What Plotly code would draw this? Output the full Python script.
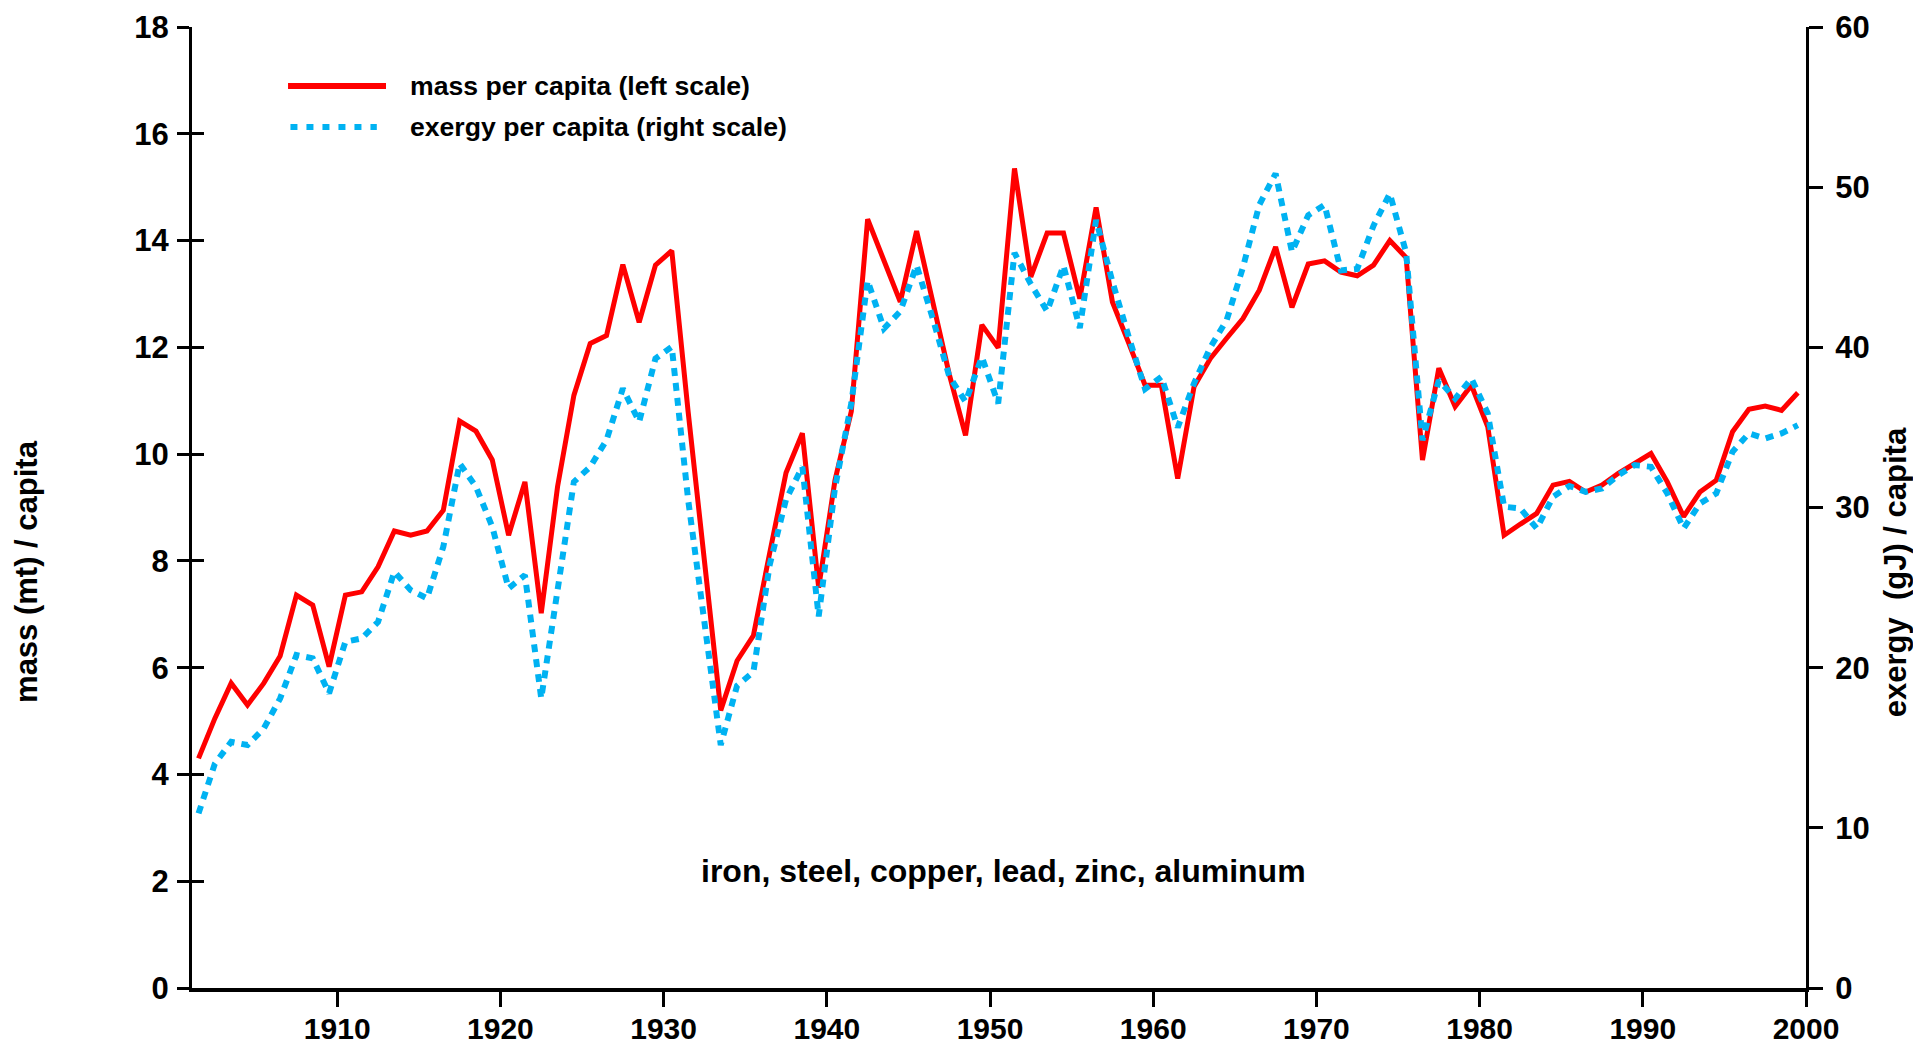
import plotly.graph_objects as go

years = list(range(1901, 2000))

mass = [4.30, 5.05, 5.71, 5.30, 5.71, 6.22, 7.36, 7.17, 6.02, 7.36,
        7.42, 7.89, 8.56, 8.48, 8.56, 8.95, 10.62, 10.43, 9.89, 8.48,
        9.48, 7.02, 9.39, 11.10, 12.07, 12.22, 13.55, 12.47, 13.54, 13.81,
        10.80, 8.05, 5.20, 6.13, 6.60, 8.15, 9.65, 10.39, 7.50, 9.51,
        10.80, 14.40, 13.64, 12.85, 14.18, 12.82, 11.50, 10.35, 12.42, 11.99,
        15.35, 13.32, 14.14, 14.14, 12.91, 14.62, 12.85, 12.08, 11.29, 11.29,
        9.54, 11.26, 11.79, 12.17, 12.54, 13.07, 13.88, 12.75, 13.56, 13.62,
        13.41, 13.34, 13.54, 14.00, 13.68, 9.89, 11.61, 10.89, 11.29, 10.51,
        8.48, 8.69, 8.89, 9.42, 9.49, 9.29, 9.42, 9.64, 9.83, 10.01,
        9.48, 8.83, 9.29, 9.51, 10.42, 10.84, 10.90, 10.82, 11.15]

exergy = [10.9, 14.0, 15.37, 15.17, 16.21, 18.08, 20.79, 20.58, 18.40, 21.62,
          21.83, 22.86, 25.99, 24.84, 24.33, 27.55, 32.75, 31.29, 28.80, 24.95,
          25.78, 18.08, 24.84, 31.60, 32.54, 34.21, 37.43, 35.35, 39.30, 40.03,
          30.5, 22.6, 15.17, 18.88, 19.73, 26.43, 30.50, 32.54, 23.20, 31.22,
          36.50, 44.16, 41.17, 42.25, 45.12, 41.77, 38.2, 36.6, 39.4, 36.5,
          45.9, 43.95, 42.25, 45.1, 41.2, 47.95, 44.1, 40.65, 37.4, 38.16,
          35.0, 37.75, 40.0, 41.7, 45.0, 48.9, 50.85, 45.96, 48.25, 48.9,
          44.8, 44.9, 47.6, 49.6, 45.9, 34.2, 37.95, 36.8, 38.06, 35.87,
          30.05, 29.94, 28.69, 30.67, 31.34, 30.98, 31.19, 32.02, 32.65, 32.54,
          30.88, 28.69, 30.25, 30.88, 33.48, 34.63, 34.31, 34.63, 35.14]

x_ticks = [1910, 1920, 1930, 1940, 1950, 1960, 1970, 1980, 1990, 2000]
left_ticks = [0, 2, 4, 6, 8, 10, 12, 14, 16, 18]
right_ticks = [0, 10, 20, 30, 40, 50, 60]

mass_name = "mass per capita (left scale)"
exergy_name = "exergy per capita (right scale)"
note = "iron, steel, copper, lead, zinc, aluminum"
left_title = "mass (mt) / capita"
right_title = "exergy \u00a0(gJ) / capita"

RED = "#FF0000"
BLUE = "#00B2F2"
FONT = "Liberation Sans, Arial, sans-serif"

# annual values plotted at mid-year
x_mid = [y + 0.5 for y in years]

fig = go.Figure()
fig.add_trace(go.Scatter(x=x_mid, y=mass, mode="lines", name=mass_name,
                         line=dict(color=RED, width=5), showlegend=False))
fig.add_trace(go.Scatter(x=[], y=[], yaxis="y3", mode="lines", showlegend=False,
                         hoverinfo="skip"))
fig.add_trace(go.Scatter(x=x_mid, y=exergy, yaxis="y2", mode="lines", name=exergy_name,
                         line=dict(color=BLUE, width=6, dash="8px,7px"), showlegend=False))

tickfont = dict(family=FONT, size=31, color="black", weight="bold")
xtickfont = dict(family=FONT, size=30, color="black", weight="bold")

fig.update_layout(
    width=1905, height=1039,
    margin=dict(l=184, r=107, t=19, b=59),
    paper_bgcolor="white", plot_bgcolor="white",
    font=dict(family=FONT, color="black"),
    xaxis=dict(range=[1901.1, 2000], tickvals=x_ticks, ticks="outside", ticklen=15,
               tickwidth=3, tickcolor="black", showline=True, linewidth=4, linecolor="black",
               showgrid=False, zeroline=False, tickfont=xtickfont, ticklabelstandoff=-4,
               automargin=False),
    yaxis=dict(range=[0, 18], tickvals=left_ticks, ticks="outside", ticklen=12,
               tickwidth=3, tickcolor="black", showline=True, linewidth=3, linecolor="black",
               showgrid=False, zeroline=False, tickfont=tickfont, ticklabelstandoff=2,
               automargin=False),
    yaxis3=dict(range=[0, 18], tickvals=left_ticks, ticks="inside", ticklen=12,
                tickwidth=3, tickcolor="black", showline=False, showticklabels=False,
                showgrid=False, zeroline=False, overlaying="y", side="left", anchor="x",
                automargin=False),
    yaxis2=dict(range=[0, 60], tickvals=right_ticks, ticks="outside", ticklen=14,
                tickwidth=3, tickcolor="black", showline=True, linewidth=3, linecolor="black",
                showgrid=False, zeroline=False, tickfont=tickfont, overlaying="y",
                side="right", anchor="x", ticklabelstandoff=6, automargin=False),
)

# legend drawn manually (long line samples)
fig.add_shape(type="line", xref="paper", yref="paper", x0=0.0595, x1=0.1202,
              y0=0.9386, y1=0.9386, line=dict(color=RED, width=6))
fig.add_shape(type="line", xref="paper", yref="paper", x0=0.061, x1=0.1145,
              y0=0.896, y1=0.896, line=dict(color=BLUE, width=6, dash="7px,9px"))
legfont = dict(family=FONT, size=26.6, color="black", weight="bold")
fig.add_annotation(xref="paper", yref="paper", x=0.1338, y=0.9386, text=mass_name,
                   showarrow=False, xanchor="left", yanchor="middle", font=legfont)
fig.add_annotation(xref="paper", yref="paper", x=0.1338, y=0.896, text=exergy_name,
                   showarrow=False, xanchor="left", yanchor="middle", font=legfont)

notefont = dict(family=FONT, size=32, color="black", weight="bold")
fig.add_annotation(xref="x", yref="y", x=1950.8, y=2.2, text=note, showarrow=False,
                   xanchor="center", yanchor="middle", font=notefont)
titlefont = dict(family=FONT, size=31, color="black", weight="bold")
fig.add_annotation(xref="paper", yref="paper", x=-0.1022, y=0.433, text=left_title,
                   showarrow=False, textangle=-90, xanchor="center", yanchor="middle",
                   font=titlefont)
fig.add_annotation(xref="paper", yref="paper", x=1.056, y=0.433, text=right_title,
                   showarrow=False, textangle=-90, xanchor="center", yanchor="middle",
                   font=titlefont)

fig.write_html("out.html")
